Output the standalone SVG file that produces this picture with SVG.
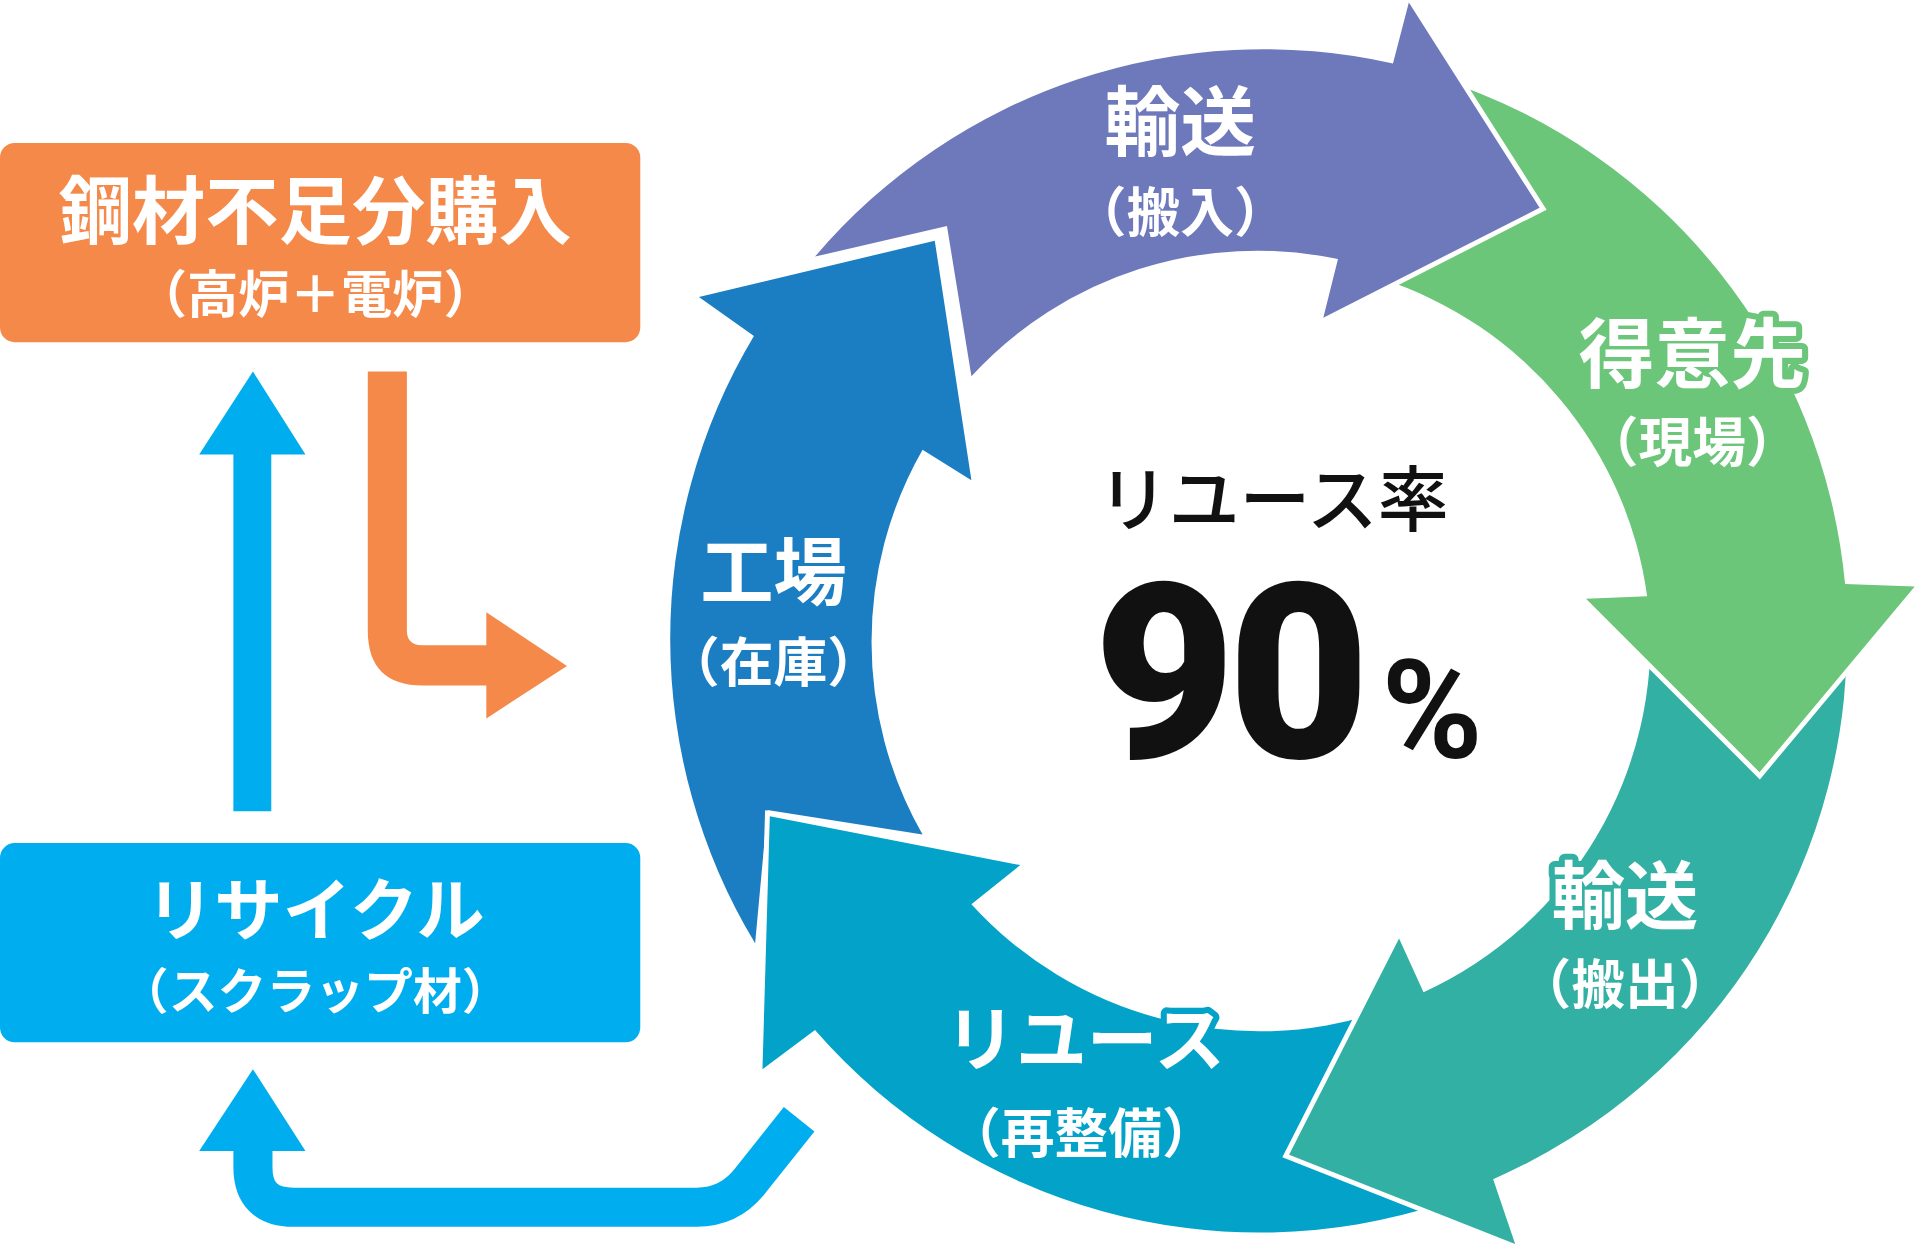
<svg xmlns="http://www.w3.org/2000/svg" width="1916" height="1246" viewBox="0 0 1916 1246">
<style>
.t{font-family:"Noto Sans CJK JP","Noto Sans",sans-serif;fill:#fff;text-anchor:middle;font-weight:700}
.seg{stroke:#fff;stroke-width:8;stroke-linejoin:miter;paint-order:stroke}
.halo{stroke-width:10;paint-order:stroke;stroke-linejoin:round}
</style>
<rect width="1916" height="1246" fill="#fff"/>
<g transform="scale(1.2219)">
<g id="connectors">
<path d="M191,664 V372 H163 L207,304 L250,372 H222 V664 Z" fill="#00AEEF"/>
<path d="M301,304 H333 V516 Q333,528 345,528 H398 V501 L464,545 L398,588 V561 H346 Q301,561 301,516 Z" fill="#F4894A"/>
<path d="M654,916 L615,965 Q598,988 570,988 L240,988 Q207,988 207,955 L207,938" fill="none" stroke="#00AEEF" stroke-width="32"/>
<path d="M163,942 L207,875 L250,942 Z" fill="#00AEEF"/>
</g>
<g id="n-buy">
<rect x="0" y="117" width="524" height="163" rx="12" fill="#F4894A"/>
<text class="t" x="258" y="195" font-size="60">鋼材不足分購入</text>
<text class="t" x="258" y="256" font-size="42">（高炉＋電炉）</text>
</g>
<g id="n-recycle">
<rect x="0" y="690" width="524" height="163" rx="12" fill="#00AEEF"/>
<text class="t" x="258" y="765" font-size="56">リサイクル</text>
<text class="t" x="258" y="826" font-size="40">（スクラップ材）</text>
</g>
<g id="n-factory">
<path class="seg" fill="#1B7EC2" d="M617,275 L572,243 L765,197 L795,393 L755,368 A318,318 0 0 0 755,683 L628,663 L618,772 A482,482 0 0 1 617,275 Z"/>
<text class="t" x="633" y="490" font-size="60">工場</text>
<text class="t" x="633" y="558" font-size="44">（在庫）</text>
</g>
<g id="n-reuse">
<path class="seg" fill="#03A3C9" d="M1180,985 A482,482 0 0 1 667,843 L624,875 L630,668 L835,708 L795,740 A318,318 0 0 0 1130,828 Z"/>
<text class="t halo" stroke="#03A3C9" x="888" y="872" font-size="58">リユース</text>
<text class="t halo" stroke="#03A3C9" x="885" y="944" font-size="44">（再整備）</text>
</g>
<g id="n-out">
<path class="seg" fill="#33B0A4" d="M1511,500 A482,482 0 0 1 1222,965 L1240,1018 L1055,945 L1145,768 L1165,812 A318,318 0 0 0 1350,500 Z"/>
<text class="t halo" stroke="#33B0A4" x="1330" y="755" font-size="60">輸送</text>
<text class="t halo" stroke="#33B0A4" x="1330" y="822" font-size="44">（搬出）</text>
</g>
<g id="n-client">
<path class="seg" fill="#6BC67A" d="M1180,65 A482,482 0 0 1 1510,478 L1567,480 L1440,632 L1298,490 L1348,488 A318,318 0 0 0 1130,228 Z"/>
<text class="t halo" stroke="#6BC67A" x="1385" y="313" font-size="62">得意先</text>
<text class="t halo" stroke="#6BC67A" x="1385" y="378" font-size="44">（現場）</text>
</g>
<g id="n-in">
<path class="seg" fill="#6E79BC" d="M795,308 L775,185 L667,210 A482,482 0 0 1 1140,52 L1153,2 L1260,170 L1083,260 L1095,212 A318,318 0 0 0 795,308 Z"/>
<text class="t" x="966" y="123" font-size="62">輸送</text>
<text class="t" x="966" y="190" font-size="44">（搬入）</text>
</g>
<g id="center">
<text x="1042" y="430" font-size="58" font-family="Noto Sans CJK JP,sans-serif" font-weight="500" text-anchor="middle" fill="#111">リユース率</text>
<text x="1005" y="620" font-size="200" font-family="Roboto,Liberation Sans,sans-serif" font-weight="900" text-anchor="middle" fill="#111" letter-spacing="-6">90</text>
<text x="1172" y="620" font-size="112" font-family="Roboto,Liberation Sans,sans-serif" font-weight="700" text-anchor="middle" fill="#111">%</text>
</g>
</g>
</svg>
